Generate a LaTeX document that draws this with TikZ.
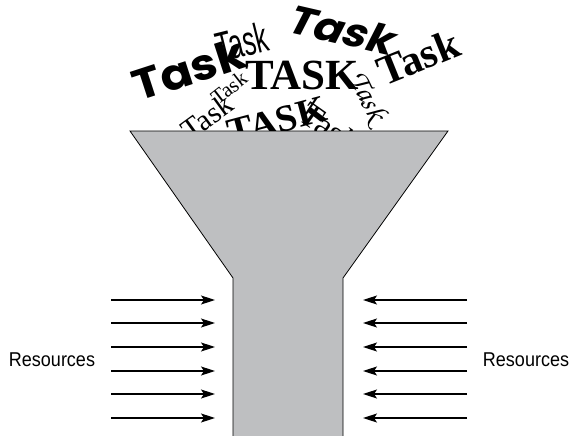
\documentclass[tikz,border=0pt]{standalone}
\usepackage[T1,TU]{fontenc}
\usepackage{fontspec}
\usetikzlibrary{arrows.meta}
\newfontfamily\resfont{Liberation Sans}[FakeStretch=0.9]
\newfontfamily\heavyfont{Poppins}[FakeStretch=1.1]
\newfontfamily\heavyslant{Poppins}[FakeSlant=0.25,FakeStretch=1.1]
\newfontfamily\narrowfont{Liberation Sans}[FakeStretch=0.6]
\newfontfamily\romanfont{Liberation Serif}
\newcommand{\chancery}{\fontencoding{T1}\fontfamily{pzc}\fontseries{mb}\fontshape{it}\selectfont}
\definecolor{funnelgray}{HTML}{BEBFC1}
\tikzset{
  word/.style={inner sep=0pt,anchor=center},
  feed/.style={-{Stealth[length=14pt,width=9pt,inset=3pt]},line width=1.3pt},
  funnel/.style={draw=black,line width=0.8pt,fill=funnelgray},
  reslabel/.style={font=\resfont\fontsize{20}{24}\selectfont}
}
\begin{document}
\begin{tikzpicture}[x=1pt,y=-1pt]
\useasboundingbox (0,0) rectangle (570,436);
% tasks pouring in
\node[word,font=\heavyfont\bfseries\fontsize{43}{43}\selectfont,rotate=18] (taskA) at (189,69) {Task};
\node[word,font=\narrowfont\fontsize{42}{42}\selectfont,rotate=14] (taskB) at (242,42) {Task};
\node[word,font=\heavyslant\bfseries\fontsize{40}{40}\selectfont,rotate=-13] (taskC) at (340,29) {Task};
\node[word,font=\romanfont\bfseries\fontsize{43}{43}\selectfont] (taskD) at (302,75) {TASK};
\node[word,font=\romanfont\bfseries\fontsize{42}{42}\selectfont,rotate=22] (taskE) at (418,57) {Task};
\node[word,font=\romanfont\fontsize{21}{21}\selectfont,rotate=38] (taskF) at (229,88) {Task};
\node[word,font=\romanfont\fontsize{30}{30}\selectfont,rotate=36] (taskG) at (207,117) {Task};
\node[word,font=\romanfont\bfseries\fontsize{38}{38}\selectfont,rotate=15] (taskH) at (277,121) {TASK};
\node[word,font=\romanfont\fontsize{34}{34}\selectfont,rotate=-35,anchor=north west] (taskI) at (311,100) {Task};
\node[word,font=\chancery\fontsize{30}{30}\selectfont,rotate=-62] (taskJ) at (367,97) {Task};
% the funnel
\draw[funnel] (130,131) -- (448,131) -- (343,278) -- (343,438) -- (233,438) -- (233,278) -- cycle;
% resources from both sides
\foreach \y [count=\i] in {300,323,347,371,394,418} {
  \coordinate (ls\i) at (111,\y);
  \coordinate (le\i) at (215,\y);
  \coordinate (rs\i) at (467,\y);
  \coordinate (re\i) at (363,\y);
  \draw[feed] (ls\i) -- (le\i);
  \draw[feed] (rs\i) -- (re\i);
}
\node[reslabel] (resL) at (52,360) {Resources};
\node[reslabel] (resR) at (526,360) {Resources};
\end{tikzpicture}
\end{document}
